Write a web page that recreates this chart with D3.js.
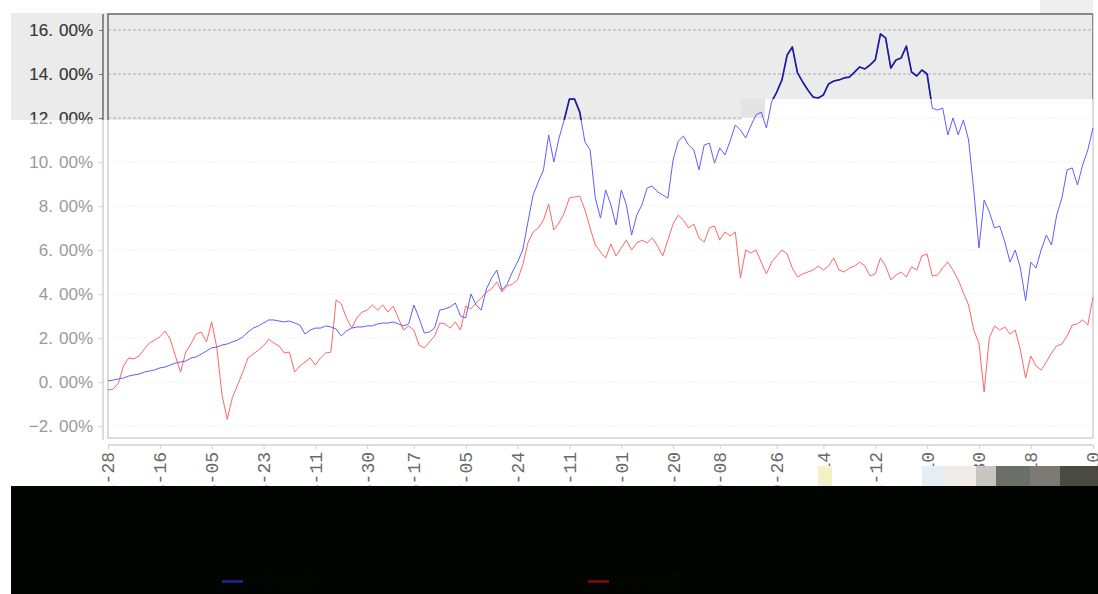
<!DOCTYPE html>
<html><head><meta charset="utf-8">
<script src="https://cdn.jsdelivr.net/npm/d3@7/dist/d3.min.js"></script>
<style>html,body{margin:0;padding:0;background:#fff;}svg{display:block;}</style>
</head><body>
<svg id="chart" width="1098" height="594"></svg>
<script>
// ---- data (cumulative return, %) ----
const tickLabels = ["2018-02-28","2018-03-16","2018-04-05","2018-04-23","2018-05-11","2018-05-30","2018-06-17","2018-07-05","2018-07-24","2018-08-11","2018-09-01","2018-09-20","2018-10-08","2018-10-26","2018-11-14","2018-12-12","2019-01-10","2019-01-30","2019-02-18","2019-03-10"];
const tickIndices = [0,10,20,30,40,50,59,69,79,89,99,109,118,129,138,148,158,168,178,190];
const yTicks = [-2,0,2,4,6,8,10,12,14,16];
const seriesNames = ["产品收益率","基准收益率"];
const blueValues = [0.05,0.09,0.14,0.18,0.27,0.32,0.36,0.45,0.50,0.55,0.64,0.68,0.77,0.86,0.91,0.95,1.09,1.14,1.27,1.41,
1.55,1.59,1.68,1.73,1.82,1.91,2.05,2.27,2.45,2.55,2.68,2.82,2.82,2.77,2.73,2.77,2.68,2.59,2.18,2.36,
2.45,2.45,2.55,2.50,2.41,2.09,2.32,2.45,2.50,2.50,2.55,2.55,2.64,2.68,2.68,2.73,2.64,2.55,2.64,3.50,
2.91,2.23,2.27,2.45,3.27,3.32,3.41,3.59,3.00,2.91,4.00,3.50,3.27,4.23,4.73,5.09,4.18,4.45,5.00,5.45,
6.00,7.27,8.50,9.09,9.64,11.23,10.00,11.09,11.91,12.86,12.86,12.27,10.91,10.55,8.36,7.45,8.73,8.05,7.14,8.73,
8.05,6.68,7.59,8.05,8.82,8.91,8.64,8.50,8.36,10.09,10.95,11.18,10.77,10.55,9.64,10.77,10.86,9.95,10.64,10.32,
10.95,11.68,11.45,11.09,11.64,12.14,12.27,11.55,12.73,13.18,13.73,14.86,15.23,14.05,13.64,13.27,12.95,12.91,13.05,13.55,
13.68,13.73,13.82,13.86,14.09,14.32,14.23,14.41,14.64,15.82,15.64,14.27,14.64,14.73,15.27,14.09,13.91,14.18,14.00,12.45,
12.36,12.45,11.23,12.00,11.23,11.91,11.00,8.73,6.09,8.27,7.73,7.00,7.09,6.36,5.45,6.00,5.18,3.70,5.45,5.18,
6.00,6.68,6.23,7.59,8.36,9.64,9.73,8.95,9.86,10.55,11.55];
const redValues = [-0.36,-0.32,-0.05,0.73,1.09,1.05,1.18,1.50,1.77,1.91,2.05,2.32,1.95,1.18,0.45,1.36,1.73,2.18,2.27,1.82,
2.73,1.55,-0.60,-1.70,-0.70,-0.14,0.45,1.09,1.27,1.45,1.64,1.95,1.77,1.64,1.32,1.36,0.45,0.73,0.91,1.09,
0.77,1.09,1.32,1.36,3.73,3.55,2.91,2.45,2.91,3.18,3.27,3.50,3.27,3.50,3.18,3.45,2.91,2.36,2.55,2.36,
1.68,1.55,1.82,2.09,2.68,2.64,2.45,2.73,2.36,3.45,3.32,3.59,3.82,4.09,4.23,4.55,4.09,4.36,4.45,4.64,
5.32,6.32,6.82,7.00,7.36,8.09,6.91,7.23,7.68,8.36,8.41,8.45,7.82,7.00,6.23,5.91,5.64,6.27,5.73,6.09,
6.45,6.00,6.32,6.45,6.32,6.55,6.18,5.73,6.45,7.18,7.59,7.36,7.00,7.18,6.55,6.36,7.00,7.09,6.45,6.82,
6.64,6.82,4.73,6.00,5.86,6.00,5.45,4.91,5.45,5.73,6.00,5.82,5.18,4.77,4.91,5.00,5.09,5.27,5.09,5.27,
5.64,5.09,5.00,5.18,5.27,5.45,5.27,4.82,4.91,5.64,5.27,4.64,4.86,5.00,4.77,5.23,5.09,5.73,5.82,4.82,
4.86,5.18,5.45,5.09,4.64,4.05,3.50,2.36,1.77,-0.45,2.00,2.55,2.36,2.50,2.18,2.36,1.45,0.18,1.18,0.73,
0.55,0.91,1.32,1.64,1.73,2.09,2.59,2.64,2.82,2.59,3.86];

// ---- layout ----
const svg = d3.select("#chart");
const L = 108, R = 1093, T = 14, B = 438;
const n = blueValues.length;
const x = d3.scaleLinear().domain([0, n - 1]).range([L, R]);
const y = d3.scaleLinear().domain([-2.5455, 16.7273]).range([B, T]);

// gray corrupted band (background)
const grayPoly = [[11,13],[1093,13],[1093,99],[742,99],[742,120],[11,120]];
svg.append("path").attr("d", "M" + grayPoly.join("L") + "Z").attr("fill", "#ebebeb");
svg.append("rect").attr("x",1040).attr("y",0).attr("width",53).attr("height",13).attr("fill","#efefef");
svg.append("rect").attr("x",741).attr("y",99).attr("width",24).attr("height",19).attr("fill","#e4e4e4");

svg.append("defs").append("clipPath").attr("id","darkClip")
  .append("path").attr("d", "M" + grayPoly.join("L") + "Z");

function drawLayer(g, p) {
  // grid
  g.append("g").selectAll("line").data(yTicks).join("line")
    .attr("x1", L).attr("x2", R).attr("y1", d => y(d)).attr("y2", d => y(d))
    .attr("stroke", p.grid).attr("stroke-width", 1).attr("stroke-dasharray", "3,2");
  // frame
  g.append("rect").attr("x", L).attr("y", T).attr("width", R - L).attr("height", B - T)
    .attr("fill", "none").attr("stroke", p.frame).attr("stroke-width", 1.5);
  // y axis
  const ya = g.append("g").attr("transform", `translate(103,0)`)
    .call(d3.axisLeft(y).tickValues(yTicks).tickSize(4).tickFormat(""));
  ya.select(".domain").attr("stroke", p.frame).attr("stroke-width", 1.5).attr("d", `M0,${T}V${B + 2}`);
  ya.selectAll(".tick line").attr("stroke", p.frame);
  const yl = g.append("g").selectAll("text").data(yTicks).join("text")
    .attr("x", 93).attr("y", d => y(d)).attr("dy", "0.36em").attr("text-anchor", "end")
    .attr("font-family", "Liberation Sans, Arial, sans-serif").attr("font-size", 17)
    .attr("fill", p.label);
  yl.each(function(d) {
    const s = d3.format(".2f")(d).split(".");
    d3.select(this).append("tspan").text(s[0] + ".");
    d3.select(this).append("tspan").attr("dx", 6).text(s[1] + "%");
  });
  // x axis
  const xa = g.append("g").attr("transform", `translate(0,445)`)
    .call(d3.axisBottom(x).tickValues(tickIndices).tickSize(4).tickFormat(""));
  xa.select(".domain").attr("stroke", p.frame).attr("stroke-width", 1.5).attr("d", `M${L},0H${R}`);
  xa.selectAll(".tick line").attr("stroke", p.frame);
  g.append("g").selectAll("text").data(tickIndices).join("text")
    .attr("transform", d => `translate(${x(d)},452) rotate(-90)`)
    .attr("dy", "0.36em").attr("text-anchor", "end")
    .attr("font-family", "Liberation Mono, DejaVu Sans Mono, monospace").attr("font-size", 18)
    .attr("fill", p.xlabel).text((d, i) => tickLabels[i]);
  // lines
  const line = d3.line().x((d, i) => x(i)).y(d => y(d));
  g.append("path").datum(redValues).attr("d", line).attr("fill", "none")
    .attr("stroke", p.red).attr("stroke-width", p.w).attr("stroke-linejoin", "round");
  g.append("path").datum(blueValues).attr("d", line).attr("fill", "none")
    .attr("stroke", p.blue).attr("stroke-width", p.w).attr("stroke-linejoin", "round");
}

drawLayer(svg.append("g"), {grid:"#f2f2f2", frame:"#d0d0d0", label:"#9a9a9a", xlabel:"#6a6a6a", red:"#ff6666", blue:"#5e5eff", w:1});
drawLayer(svg.append("g").attr("clip-path","url(#darkClip)"), {grid:"#a8a8a8", frame:"#707070", label:"#3a3a3a", xlabel:"#333", red:"#aa2020", blue:"#1c1ca0", w:1.7});

// corrupted tiles near the right end of the x labels
const tiles = [[818,466,14,20,"#f4f0c8"],[922,466,24,20,"#e4eef4"],[946,466,30,20,"#f2ece8"],[976,466,20,20,"#c8c4be"],[996,466,34,20,"#6a7068"],[1030,466,30,20,"#7c7a72"],[1060,466,38,20,"#4a4a40"]];
svg.append("g").selectAll("rect").data(tiles).join("rect")
  .attr("x", d => d[0]).attr("y", d => d[1]).attr("width", d => d[2]).attr("height", d => d[3]).attr("fill", d => d[4]);

// dark legend band
svg.append("rect").attr("x", 11).attr("y", 486).attr("width", 1087).attr("height", 108).attr("fill", "#020402");
const legendColors = ["#20207a", "#6e0c0c"];
svg.append("g").selectAll("rect").data(seriesNames).join("rect")
  .attr("x", (d, i) => i === 0 ? 222 : 588).attr("y", 580).attr("width", 21).attr("height", 3)
  .attr("fill", (d, i) => legendColors[i]);
svg.append("g").selectAll("text").data(seriesNames).join("text")
  .attr("x", (d, i) => (i === 0 ? 222 : 588) + 26).attr("y", 586)
  .attr("font-family", "Noto Sans CJK SC").attr("font-size", 14).attr("fill", "#040604").text(d => d);
</script>
</body></html>
